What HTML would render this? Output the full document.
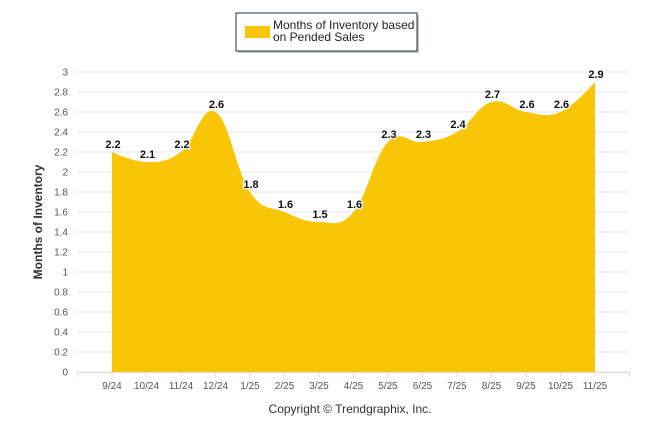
<!DOCTYPE html>
<html><head><meta charset="utf-8"><style>
body{margin:0;background:#fff;}
svg{display:block;font-family:"Liberation Sans",sans-serif;}
</style></head><body>
<svg width="646" height="434">
<g id="grid"></g>
<path id="area" fill="#F8C507"></path>
<g id="labels"></g>
<g id="yticks"></g>
<g id="xticks"></g>
<text transform="translate(42,222) rotate(-90)" text-anchor="middle" font-size="12" font-weight="bold" fill="#333">Months of Inventory</text>
<text x="350" y="413" text-anchor="middle" font-size="12" fill="#333">Copyright © Trendgraphix, Inc.</text>
<g>
<rect x="238" y="15" width="181" height="38" fill="#888" opacity="0.5"></rect>
<rect x="236" y="13" width="181" height="38" fill="#fff" stroke="#1f2d4d" stroke-width="1"></rect>
<rect x="245" y="26" width="25" height="12" fill="#F8C507"></rect>
<text x="273" y="29" font-size="12" fill="#222">Months of Inventory based</text>
<text x="273" y="41" font-size="12" fill="#222">on Pended Sales</text>
</g>
</svg>
<script>
const categories=["9/24","10/24","11/24","12/24","1/25","2/25","3/25","4/25","5/25","6/25","7/25","8/25","9/25","10/25","11/25"];
const values=[2.2,2.1,2.2,2.6,1.8,1.6,1.5,1.6,2.3,2.3,2.4,2.7,2.6,2.6,2.9];
const yTicks=[0,0.2,0.4,0.6,0.8,1,1.2,1.4,1.6,1.8,2,2.2,2.4,2.6,2.8,3];
const NS="http://www.w3.org/2000/svg";
const x0=112,x1=595,yb=372,yt=72,ymax=3;
const step=(x1-x0)/(categories.length-1);
const X=i=>x0+i*step;
const Y=v=>yb-(v/ymax)*(yb-yt);
function mk(t,a,p){const e=document.createElementNS(NS,t);for(const k in a)e.setAttribute(k,a[k]);p.appendChild(e);return e;}
const grid=document.getElementById('grid'),yt_=document.getElementById('yticks'),xt=document.getElementById('xticks'),lab=document.getElementById('labels');
yTicks.forEach(v=>{
 const l=mk('line',{x1:78,x2:629,y1:Y(v),y2:Y(v),stroke:'#e6e6e6','stroke-width':1},grid);
 
 
 const t=mk('text',{x:68,y:Y(v)+3.5,'text-anchor':'end','font-size':10,fill:'#555'},yt_);
 t.textContent=String(v);
 
 
});
mk('line',{x1:78,x2:629,y1:yb+0.5,y2:yb+0.5,stroke:'#ddd'},xt);
[X(-1),X(categories.length)].forEach(x=>mk('line',{x1:x,x2:x,y1:yb,y2:yb+5,stroke:'#ddd'},xt));
categories.forEach((c,i)=>{
 mk('line',{x1:X(i),x2:X(i),y1:yb,y2:yb+5,stroke:'#ddd'},xt);
 const t=mk('text',{x:X(i),y:389,'text-anchor':'middle','font-size':10,fill:'#555'},xt);
 t.textContent=c;
 
 
});
// Highcharts-style spline
const n=values.length,px=values.map((v,i)=>X(i)),py=values.map(v=>Y(v));
const sm=1.5,den=2.5,L=[],R=[];
for(let i=0;i<n;i++){
 if(i===0||i===n-1){L.push([px[i],py[i]]);R.push([px[i],py[i]]);continue;}
 let lx=(sm*px[i]+px[i-1])/den,ly=(sm*py[i]+py[i-1])/den;
 let rx=(sm*px[i]+px[i+1])/den,ry=(sm*py[i]+py[i+1])/den;
 const c=((ry-ly)*(rx-px[i]))/(rx-lx)+py[i]-ry;
 ly+=c;ry+=c;
 L.push([lx,ly]);R.push([rx,ry]);
}
let p=`M${px[0]},${yb} L${px[0]},${py[0]}`;
for(let i=1;i<n;i++){
 p+=` C${R[i-1][0]},${R[i-1][1]} ${L[i][0]},${L[i][1]} ${px[i]},${py[i]}`;
}
p+=` L${px[n-1]},${yb} Z`;
document.getElementById('area').setAttribute('d',p);
values.forEach((v,i)=>{
 const t=mk('text',{x:X(i)+1,y:Y(v)-4,'text-anchor':'middle','font-size':11,'font-weight':'bold',fill:'#111',stroke:'#fff','stroke-width':2.5,'paint-order':'stroke'},lab);
 t.textContent=v.toFixed(1);
 
 
});
</script>
</body></html>
